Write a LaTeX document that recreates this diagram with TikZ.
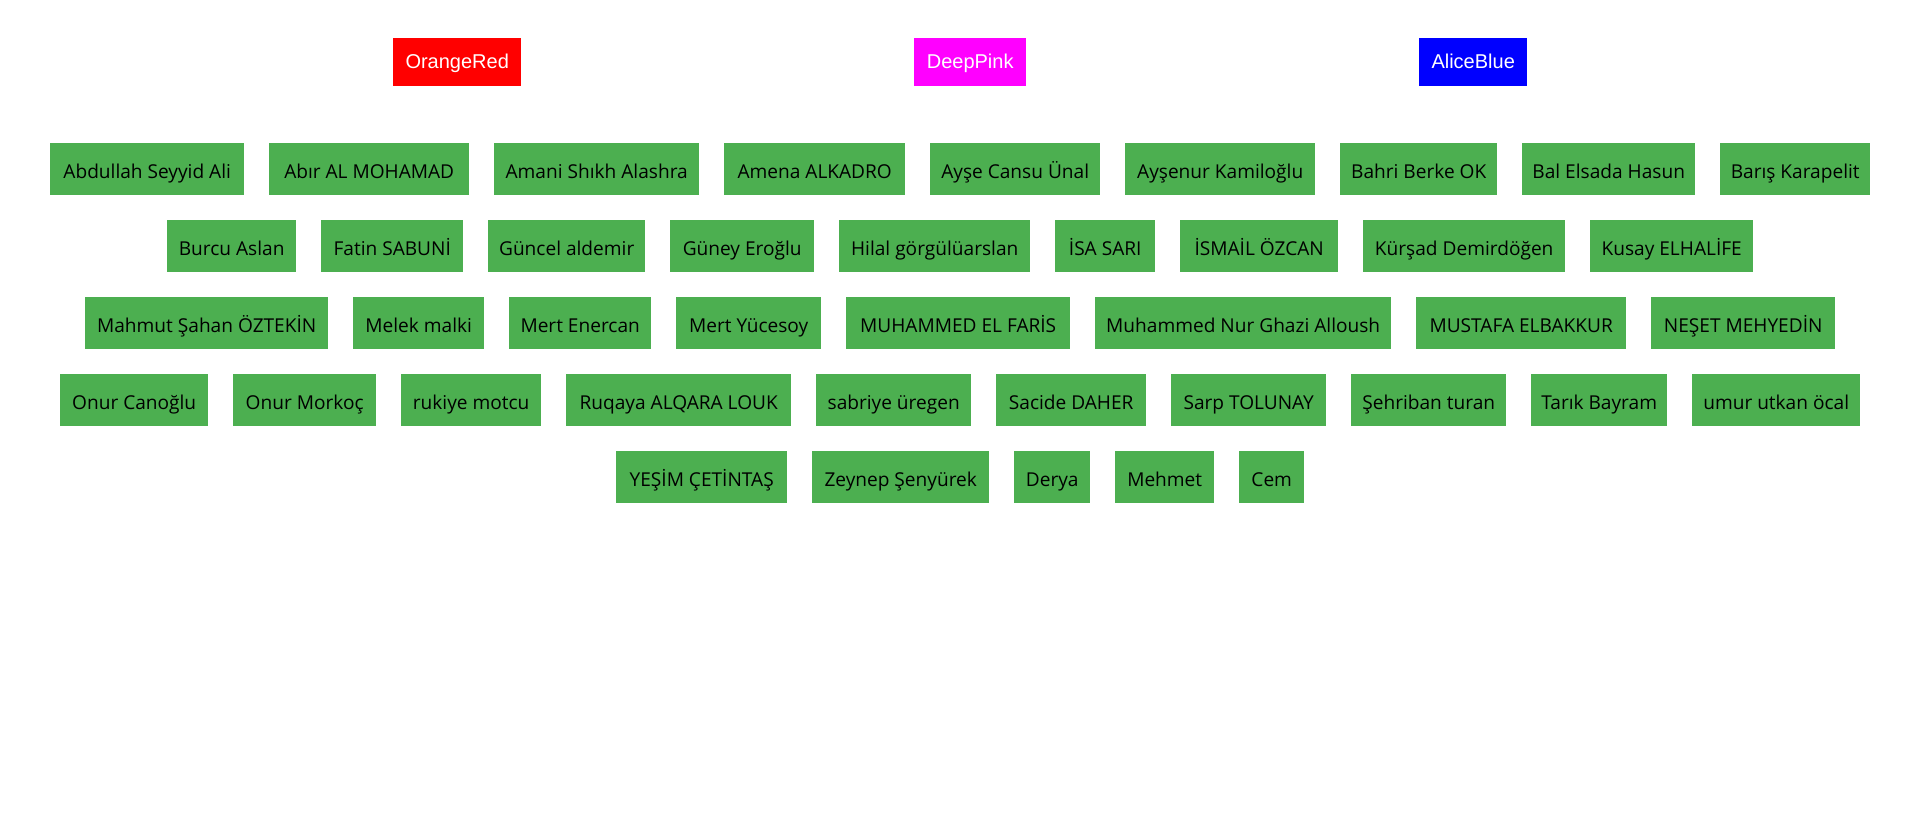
\documentclass[tikz,border=0pt]{standalone}
\usepackage{fontspec}
\setmainfont{Open Sans}
\newfontfamily\arialfont{Liberation Sans}
\definecolor{namegreen}{HTML}{4CAF50}
\definecolor{orangered}{HTML}{FF0000}
\definecolor{deeppink}{HTML}{FF00FF}
\definecolor{aliceblue}{HTML}{0000FF}
\begin{document}
\begin{tikzpicture}[x=1pt,y=-1pt,
    namebox/.style={fill=namegreen,anchor=west,inner sep=0pt,minimum height=51.7,
        text height=20,text depth=1.4,font=\fontsize{19.1}{23}\selectfont},
    colorbox/.style={anchor=west,inner sep=0pt,minimum height=48,text=white,
        text height=14,text depth=1.4,font=\arialfont\fontsize{20}{24}\selectfont}]
    \useasboundingbox (0,0) rectangle (1920,817);
    % colour boxes
    \node[colorbox,fill=orangered,minimum width=128](H1) at (393,62) {OrangeRed};
    \node[colorbox,fill=deeppink,minimum width=112](H2) at (914,62) {DeepPink};
    \node[colorbox,fill=aliceblue,minimum width=108](H3) at (1419,62) {AliceBlue};
    % row 1
    \node[namebox,minimum width=194](A1) at (50,169) {Abdullah Seyyid Ali};
    \node[namebox,minimum width=200](A2) at (269,169) {Abır AL MOHAMAD};
    \node[namebox,minimum width=205](A3) at (494,169) {Amani Shıkh Alashra};
    \node[namebox,minimum width=181](A4) at (724,169) {Amena ALKADRO};
    \node[namebox,minimum width=170](A5) at (930,169) {Ayşe Cansu Ünal};
    \node[namebox,minimum width=190](A6) at (1125,169) {Ayşenur Kamiloğlu};
    \node[namebox,minimum width=157](A7) at (1340,169) {Bahri Berke OK};
    \node[namebox,minimum width=173](A8) at (1522,169) {Bal Elsada Hasun};
    \node[namebox,minimum width=150](A9) at (1720,169) {Barış Karapelit};
    % row 2
    \node[namebox,minimum width=129](B1) at (167,246) {Burcu Aslan};
    \node[namebox,minimum width=142](B2) at (321,246) {Fatin SABUNİ};
    \node[namebox,minimum width=157](B3) at (488,246) {Güncel aldemir};
    \node[namebox,minimum width=144](B4) at (670,246) {Güney Eroğlu};
    \node[namebox,minimum width=191](B5) at (839,246) {Hilal görgülüarslan};
    \node[namebox,minimum width=100](B6) at (1055,246) {İSA SARI};
    \node[namebox,minimum width=158](B7) at (1180,246) {İSMAİL ÖZCAN};
    \node[namebox,minimum width=202](B8) at (1363,246) {Kürşad Demirdöğen};
    \node[namebox,minimum width=163](B9) at (1590,246) {Kusay ELHALİFE};
    % row 3
    \node[namebox,minimum width=243](C1) at (85,323) {Mahmut Şahan ÖZTEKİN};
    \node[namebox,minimum width=131](C2) at (353,323) {Melek malki};
    \node[namebox,minimum width=142](C3) at (509,323) {Mert Enercan};
    \node[namebox,minimum width=145](C4) at (676,323) {Mert Yücesoy};
    \node[namebox,minimum width=224](C5) at (846,323) {MUHAMMED EL FARİS};
    \node[namebox,minimum width=296](C6) at (1095,323) {Muhammed Nur Ghazi Alloush};
    \node[namebox,minimum width=210](C7) at (1416,323) {MUSTAFA ELBAKKUR};
    \node[namebox,minimum width=184](C8) at (1651,323) {NEŞET MEHYEDİN};
    % row 4
    \node[namebox,minimum width=148](D1) at (60,400) {Onur Canoğlu};
    \node[namebox,minimum width=143](D2) at (233,400) {Onur Morkoç};
    \node[namebox,minimum width=140](D3) at (401,400) {rukiye motcu};
    \node[namebox,minimum width=225](D4) at (566,400) {Ruqaya ALQARA LOUK};
    \node[namebox,minimum width=155](D5) at (816,400) {sabriye üregen};
    \node[namebox,minimum width=150](D6) at (996,400) {Sacide DAHER};
    \node[namebox,minimum width=155](D7) at (1171,400) {Sarp TOLUNAY};
    \node[namebox,minimum width=155](D8) at (1351,400) {Şehriban turan};
    \node[namebox,minimum width=136](D9) at (1531,400) {Tarık Bayram};
    \node[namebox,minimum width=168](D10) at (1692,400) {umur utkan öcal};
    % row 5
    \node[namebox,minimum width=171](E1) at (616,477) {YEŞİM ÇETİNTAŞ};
    \node[namebox,minimum width=177](E2) at (812,477) {Zeynep Şenyürek};
    \node[namebox,minimum width=76](E3) at (1014,477) {Derya};
    \node[namebox,minimum width=99](E4) at (1115,477) {Mehmet};
    \node[namebox,minimum width=65](E5) at (1239,477) {Cem};
\end{tikzpicture}
\end{document}
